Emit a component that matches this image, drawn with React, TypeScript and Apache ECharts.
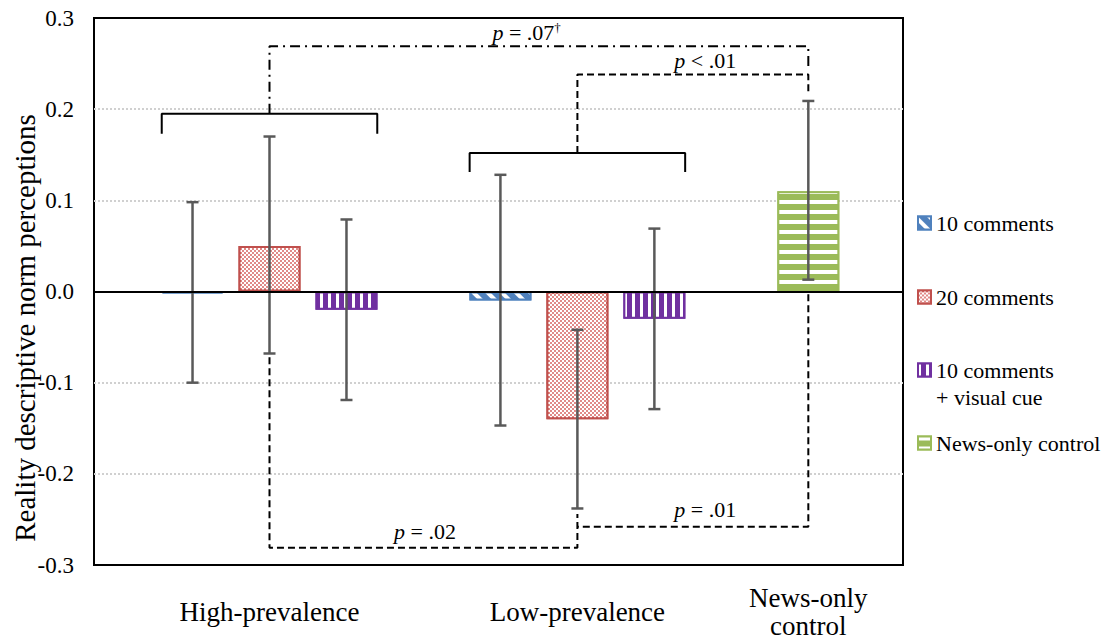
import React, { useEffect, useRef } from 'react';
import * as echarts from 'echarts';

const FONT = 'Liberation Serif';

// Groups on the x axis
const groups = ['High-prevalence', 'Low-prevalence', 'News-only\ncontrol'];
const seriesNames = ['10 comments', '20 comments', '10 comments + visual cue', 'News-only control'];

// Group means (null where the condition is absent from the group)
const tenComments = [-0.002, -0.01, null];
const twentyComments = [0.05, -0.14, null];
const tenCommentsCue = [-0.02, -0.03, null];
const newsOnlyControl = [null, null, 0.11];

// Error bar bounds
const tenCommentsLow = [-0.1, -0.147, null];
const tenCommentsHigh = [0.098, 0.128, null];
const twentyCommentsLow = [-0.068, -0.238, null];
const twentyCommentsHigh = [0.17, -0.042, null];
const tenCommentsCueLow = [-0.119, -0.129, null];
const tenCommentsCueHigh = [0.079, 0.069, null];
const newsOnlyLow = [null, null, 0.013];
const newsOnlyHigh = [null, null, 0.209];

// Y axis ticks
const yTicks = [-0.3, -0.2, -0.1, 0, 0.1, 0.2, 0.3];

// Bracket over each prevalence group (x in slot units, y in norm units)
const bracketHigh = [[-0.4, 0.173], [-0.4, 0.195], [2.4, 0.195], [2.4, 0.173]];
const bracketLow = [[3.6, 0.131], [3.6, 0.152], [6.4, 0.152], [6.4, 0.131]];

// Comparison connectors
const linkHighVsControl = [[1, 0.195], [1, 0.269], [8, 0.269], [8, 0.247]];
const linkLowVsControl = [[5, 0.152], [5, 0.238], [8, 0.238], [8, 0.217]];
const linkHighVsLow20 = [[1, -0.072], [1, -0.281], [5, -0.281], [5, -0.244]];
const linkLow20VsControl = [[8, -0.003], [8, -0.258], [5, -0.258]];

// p-value annotations
const pLabels = ['p = .07†', 'p < .01', 'p = .02', 'p = .01'];
const pLabelX = [4.34, 6.66, 3.02, 6.66];
const pLabelY = [0.284, 0.253, -0.263, -0.2386];

const SLOTS_PER_GROUP = 4;
const slotInGroup = [0, 1, 2, 0];

const means = [tenComments, twentyComments, tenCommentsCue, newsOnlyControl];
const lows = [tenCommentsLow, twentyCommentsLow, tenCommentsCueLow, newsOnlyLow];
const highs = [tenCommentsHigh, twentyCommentsHigh, tenCommentsCueHigh, newsOnlyHigh];

const colors = ['#4F81BD', '#C0504D', '#7030A0', '#9BBB59'];
const fills = ['#4F81BD', '#E08A88', '#7030A0', '#9BBB59'];
const decals: any[] = [
  { symbol: 'rect', symbolSize: 1, color: '#ffffff', dashArrayX: [20, 0], dashArrayY: [4, 6], rotation: Math.PI / 4 },
  { symbol: 'rect', symbolSize: 1, color: '#ffffff', dashArrayX: [[2, 2], [0, 2, 2, 0]], dashArrayY: [2, 0] },
  { symbol: 'rect', symbolSize: 1, color: '#ffffff', dashArrayX: [3, 5], dashArrayY: [20, 0] },
  { symbol: 'rect', symbolSize: 1, color: '#ffffff', dashArrayX: [20, 0], dashArrayY: [4, 6] },
];

const slotOf = (s: number, g: number) => g * SLOTS_PER_GROUP + slotInGroup[s];

// Centre of each group = mean slot of the bars it holds
const groupCenters = groups.map((_, g) => {
  const slots: number[] = [];
  means.forEach((m, s) => {
    if (m[g] != null) slots.push(slotOf(s, g));
  });
  return slots.reduce((a, b) => a + b, 0) / slots.length;
});

const legendTops = [209.5, 283.5, 329.5, 429.5];

export default function App() {
  const ref = useRef<HTMLDivElement>(null);

  useEffect(() => {
    if (!ref.current) return;
    const chart = echarts.init(ref.current, undefined, { renderer: 'svg' });

    const barSeries = seriesNames.map((name, s) => ({
      type: 'bar',
      name,
      xAxisIndex: 0,
      yAxisIndex: 0,
      barWidth: 62,
      barGap: '-100%',
      z: 2,
      data: means[s]
        .map((v, g) => (v == null ? null : [slotOf(s, g), v]))
        .filter((d) => d != null),
      itemStyle: {
        color: fills[s],
        borderColor: colors[s],
        borderWidth: 2,
        decal: decals[s],
      },
    }));

    const errorData: number[][] = [];
    means.forEach((m, s) => {
      m.forEach((v, g) => {
        if (v != null) errorData.push([slotOf(s, g), lows[s][g] as number, highs[s][g] as number]);
      });
    });

    const errorSeries = {
      type: 'custom',
      name: 'ci',
      xAxisIndex: 0,
      yAxisIndex: 0,
      z: 3,
      silent: true,
      encode: { x: 0, y: [1, 2] },
      data: errorData,
      renderItem: (_params: any, api: any) => {
        const x = api.value(0);
        const lo = api.coord([x, api.value(1)]);
        const hi = api.coord([x, api.value(2)]);
        const cap = 6;
        const st = { stroke: '#595959', lineWidth: 2.5 };
        return {
          type: 'group',
          children: [
            { type: 'line', shape: { x1: lo[0], y1: lo[1], x2: hi[0], y2: hi[1] }, style: st },
            { type: 'line', shape: { x1: lo[0] - cap, y1: lo[1], x2: lo[0] + cap, y2: lo[1] }, style: st },
            { type: 'line', shape: { x1: hi[0] - cap, y1: hi[1], x2: hi[0] + cap, y2: hi[1] }, style: st },
          ],
        };
      },
    };

    const pathSeries = (name: string, data: number[][], type: any) => ({
      type: 'line',
      name,
      xAxisIndex: 0,
      yAxisIndex: 0,
      data,
      symbol: 'none',
      silent: true,
      z: 4,
      lineStyle: { color: '#000', width: 2, type },
    });

    const labelSeries = {
      type: 'custom',
      name: 'p',
      xAxisIndex: 0,
      yAxisIndex: 0,
      z: 6,
      silent: true,
      data: pLabels.map((_, i) => [pLabelX[i], pLabelY[i], i]),
      renderItem: (_params: any, api: any) => {
        const p = api.coord([api.value(0), api.value(1)]);
        const raw = pLabels[api.value(2)];
        const text = raw.replace(/^p/, '{i|p}{n|').replace('†', '}{d|†}').replace(/([^}])$/, '$1}');
        const base = { fontSize: 22, fontFamily: FONT, fill: '#000', lineHeight: 24 };
        return {
          type: 'text',
          x: p[0],
          y: p[1],
          style: {
            text,
            align: 'center',
            verticalAlign: 'middle',
            ...base,
            rich: {
              i: { ...base, fontStyle: 'italic' },
              n: { ...base },
              d: { fontSize: 13, fontFamily: FONT, fill: '#000', verticalAlign: 'top', lineHeight: 24 },
            },
          },
        };
      },
    };

    const option: any = {
      animation: false,
      backgroundColor: '#ffffff',
      grid: {
        left: 94,
        right: 207,
        top: 18,
        bottom: 75,
        show: true,
        borderColor: '#000',
        borderWidth: 2,
        backgroundColor: 'transparent',
      },
      xAxis: [
        {
          type: 'value',
          min: -1.28,
          max: 9.23,
          position: 'bottom',
          z: 10,
          axisLine: { show: true, onZero: true, lineStyle: { color: '#000', width: 2 } },
          axisTick: { show: false },
          axisLabel: { show: false },
          splitLine: { show: false },
        },
        {
          type: 'value',
          min: -1.28,
          max: 9.23,
          position: 'bottom',
          axisLine: { show: false, onZero: false },
          axisTick: { show: false },
          splitLine: { show: false },
          axisLabel: {
            show: true,
            customValues: groupCenters,
            formatter: (v: number) => {
              const i = groupCenters.findIndex((c) => Math.abs(c - v) < 1e-6);
              return i >= 0 ? groups[i] : '';
            },
            fontFamily: FONT,
            fontSize: 27,
            lineHeight: 28,
            color: '#000',
            verticalAlign: 'middle',
            margin: 47,
          },
        },
      ],
      yAxis: {
        type: 'value',
        min: yTicks[0],
        max: yTicks[yTicks.length - 1],
        interval: 0.1,
        axisLine: { show: false },
        axisTick: { show: false },
        axisLabel: {
          fontFamily: FONT,
          fontSize: 23,
          color: '#000',
          margin: 20,
          formatter: (v: number) => (Math.abs(v) < 1e-9 ? '0.0' : v.toFixed(1)),
        },
        splitLine: {
          show: true,
          showMinLine: false,
          showMaxLine: false,
          lineStyle: { color: '#D0D0D0', type: 'dotted', width: 2 },
        },
      },
      legend: seriesNames.map((name, i) => ({
        data: [name],
        orient: 'vertical',
        left: 917,
        top: legendTops[i],
        padding: 0,
        itemWidth: 13,
        itemHeight: 13,
        icon: 'rect',
        selectedMode: false,
        formatter: (n: string) => (n.includes(' + ') ? '\n' + n.replace(' + ', '\n+ ') : n),
        textStyle: {
          fontFamily: FONT,
          fontSize: 22,
          color: '#000',
          lineHeight: 27,
        },
      })),
      graphic: [
        {
          type: 'text',
          x: 25,
          y: 328,
          rotation: Math.PI / 2,
          style: {
            text: 'Reality descriptive norm perceptions',
            font: `29px ${FONT}`,
            fill: '#000',
            align: 'center',
            verticalAlign: 'middle',
          },
        },
      ],
      series: [
        ...barSeries,
        errorSeries,
        pathSeries('bracketHigh', bracketHigh, 'solid'),
        pathSeries('bracketLow', bracketLow, 'solid'),
        pathSeries('linkHighVsControl', linkHighVsControl, [10, 5, 2, 5]),
        pathSeries('linkLowVsControl', linkLowVsControl, [7, 4]),
        pathSeries('linkHighVsLow20', linkHighVsLow20, [7, 4]),
        pathSeries('linkLow20VsControl', linkLow20VsControl, [7, 4]),
        labelSeries,
      ],
    };

    chart.setOption(option);
    return () => chart.dispose();
  }, []);

  return (
    <div
      ref={ref}
      style={{ position: 'fixed', left: 0, top: 0, width: 1110, height: 640, background: '#fff' }}
    />
  );
}
